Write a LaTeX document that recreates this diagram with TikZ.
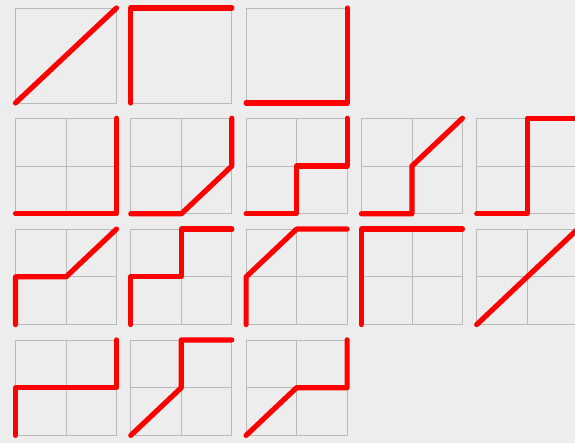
\documentclass[tikz,border=0pt]{standalone}
\newcommand\onecell[3]{\begin{scope}[shift={(15.5+115.3*#1,103+110.8*#2)},x=101pt,y=95pt]
  \draw[gridln] (0,0) rectangle (1,1);
  \draw[route] #3;
\end{scope}}
\newcommand\twocell[3]{\begin{scope}[shift={(15.5+115.3*#1,103+110.8*#2)},x=50.5pt,y=47.75pt]
  \draw[gridln] (0,0) rectangle (2,2) (1,0) -- (1,2) (0,1) -- (2,1);
  \draw[route] #3;
\end{scope}}
\begin{document}
\begin{tikzpicture}[x=1pt,y=-1pt,
  gridln/.style={draw=black!27,line width=0.8pt},
  route/.style={draw=red,line width=5.2pt,line cap=round,line join=round}]
\clip (0,0) rectangle (575,443);
\fill[black!7] (0,0) rectangle (575,443);
% row 1
\onecell{0}{0}{(0,0) -- (1,1)}
\onecell{1}{0}{(0,0) -- (0,1) -- (1,1)}
\onecell{2}{0}{(0,0) -- (1,0) -- (1,1)}
% row 2
\twocell{0}{1}{(0,0) -- (2,0) -- (2,2)}
\twocell{1}{1}{(0,0) -- (1,0) -- (2,1) -- (2,2)}
\twocell{2}{1}{(0,0) -- (1,0) -- (1,1) -- (2,1) -- (2,2)}
\twocell{3}{1}{(0,0) -- (1,0) -- (1,1) -- (2,2)}
\twocell{4}{1}{(0,0) -- (1,0) -- (1,2) -- (2,2)}
% row 3
\twocell{0}{2}{(0,0) -- (0,1) -- (1,1) -- (2,2)}
\twocell{1}{2}{(0,0) -- (0,1) -- (1,1) -- (1,2) -- (2,2)}
\twocell{2}{2}{(0,0) -- (0,1) -- (1,2) -- (2,2)}
\twocell{3}{2}{(0,0) -- (0,2) -- (2,2)}
\twocell{4}{2}{(0,0) -- (2,2)}
% row 4
\twocell{0}{3}{(0,0) -- (0,1) -- (2,1) -- (2,2)}
\twocell{1}{3}{(0,0) -- (1,1) -- (1,2) -- (2,2)}
\twocell{2}{3}{(0,0) -- (1,1) -- (2,1) -- (2,2)}
\end{tikzpicture}
\end{document}
